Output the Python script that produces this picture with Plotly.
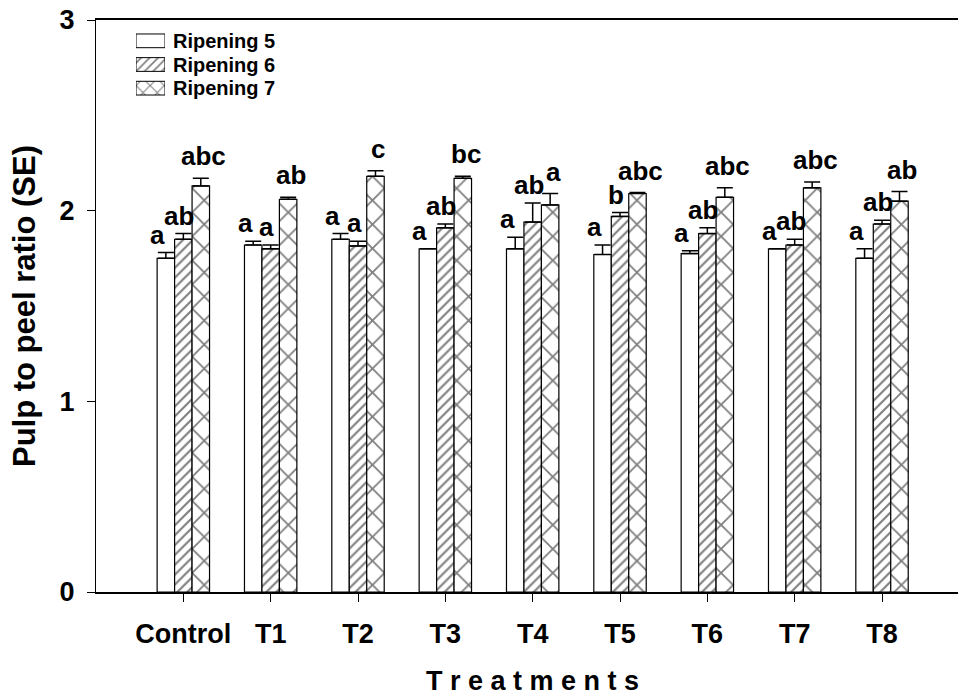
import plotly.graph_objects as go

categories = ["Control", "T1", "T2", "T3", "T4", "T5", "T6", "T7", "T8"]
series_names = ["Ripening 5", "Ripening 6", "Ripening 7"]

r5 = [1.75, 1.82, 1.85, 1.80, 1.80, 1.77, 1.775, 1.80, 1.75]
r5_se = [0.03, 0.02, 0.03, 0.0, 0.06, 0.05, 0.015, 0.0, 0.05]
r6 = [1.85, 1.80, 1.815, 1.91, 1.94, 1.97, 1.88, 1.82, 1.93]
r6_se = [0.03, 0.02, 0.025, 0.02, 0.10, 0.02, 0.03, 0.03, 0.02]
r7 = [2.13, 2.06, 2.18, 2.17, 2.03, 2.09, 2.07, 2.12, 2.05]
r7_se = [0.04, 0.01, 0.03, 0.01, 0.06, 0.005, 0.05, 0.03, 0.05]

r5_letters = ["a", "a", "a", "a", "a", "a", "a", "a", "a"]
r6_letters = ["ab", "a", "a", "ab", "ab", "b", "ab", "ab", "ab"]
r7_letters = ["abc", "ab", "c", "bc", "a", "abc", "abc", "abc", "ab"]

y_ticks = [0, 1, 2, 3]

FONT = "Arial, 'Liberation Sans', sans-serif"
patterns = ["", "/", "x"]
pattern_sizes = [8, 7, 17]
pattern_solidity = [0.1, 0.3, 0.2]

fig = go.Figure()

data = [(r5, r5_se, r5_letters), (r6, r6_se, r6_letters), (r7, r7_se, r7_letters)]
for i, (vals, se, _) in enumerate(data):
    fig.add_trace(go.Bar(
        x=categories, y=vals, name=series_names[i],
        marker=dict(color="white", line=dict(color="black", width=1.2),
                    pattern=dict(shape=patterns[i], fgcolor="black", bgcolor="white",
                                 size=pattern_sizes[i], solidity=pattern_solidity[i],
                                 fillmode="overlay")),
        error_y=dict(type="data", array=se, arrayminus=[0] * len(se), symmetric=False,
                     color="black", thickness=1.5, width=8),
        showlegend=False,
    ))

# significance letters
offsets = [-0.2, 0.0, 0.2]
xshifts = [-8, -4, 3]
yshifts = [1, 1, 5]
for i, (vals, se, letters) in enumerate(data):
    for j, cat in enumerate(categories):
        fig.add_annotation(
            x=j + offsets[i], y=vals[j] + se[j], xref="x", yref="y",
            text=letters[j], showarrow=False, yanchor="bottom", xanchor="center",
            xshift=xshifts[i], yshift=yshifts[i],
            font=dict(family=FONT, size=26, color="black", weight="bold"),
        )

# custom legend (inset axes)
fig.add_trace(go.Bar(
    y=series_names, x=[1, 1, 1], orientation="h", xaxis="x2", yaxis="y2",
    width=0.58,
    marker=dict(color="white", line=dict(color="black", width=1),
                pattern=dict(shape=patterns, fgcolor="black", bgcolor="white",
                             size=[8, 6, 10], solidity=[0.1, 0.28, 0.2], fillmode="overlay")),
    showlegend=False, hoverinfo="skip",
))
for name in series_names:
    fig.add_annotation(
        x=1, y=name, xref="x2 domain", yref="y2", text=name, showarrow=False,
        xanchor="left", xshift=6,
        font=dict(family=FONT, size=20, color="black", weight="bold"),
    )

W, H = 958, 700
ml, mt, mb, mr = 96, 20, 108, 0
pw, ph = W - ml - mr, H - mt - mb

def px_x(p):
    return (p - ml) / pw

def px_y(p):
    return 1 - (p - mt) / ph

# x-axis title, centred on the full (partly cut) axis
fig.add_annotation(
    x=4, y=px_y(681), xref="x", yref="paper", text="T r e a t m e n t s",
    showarrow=False, xanchor="center", yanchor="middle",
    font=dict(family=FONT, size=27, color="black", weight="bold"),
)

fig.update_layout(
    width=W, height=H,
    margin=dict(l=ml, r=mr, t=mt, b=mb),
    paper_bgcolor="white", plot_bgcolor="white",
    barmode="group", bargap=0.4, bargroupgap=0,
    font=dict(family=FONT, color="black"),
    xaxis=dict(
        type="category", range=[-1, 8.87],
        showline=True, linecolor="black", linewidth=2, mirror=True,
        ticks="outside", ticklen=8, tickcolor="black", tickwidth=1,
        tickfont=dict(family=FONT, size=27, color="black", weight="bold"),
        ticklabelstandoff=9,
        showgrid=False, zeroline=False,
    ),
    yaxis=dict(
        range=[0, 3], tickvals=y_ticks,
        showline=True, linecolor="black", linewidth=1,
        ticks="outside", ticklen=8, tickcolor="black", tickwidth=1,
        tickfont=dict(family=FONT, size=27, color="black", weight="bold"),
        ticklabelstandoff=7,
        showgrid=False, zeroline=False,
        title=dict(text="Pulp to peel ratio (SE)",
                   font=dict(family=FONT, size=31, color="black", weight="bold"),
                   standoff=14),
    ),
    xaxis2=dict(domain=[px_x(136), px_x(165)], range=[0, 1], anchor="y2",
                visible=False, fixedrange=True),
    yaxis2=dict(domain=[px_y(100), px_y(29)], anchor="x2", visible=False,
                type="category", range=[2.5, -0.5]),
)

fig.write_html("out.html")
